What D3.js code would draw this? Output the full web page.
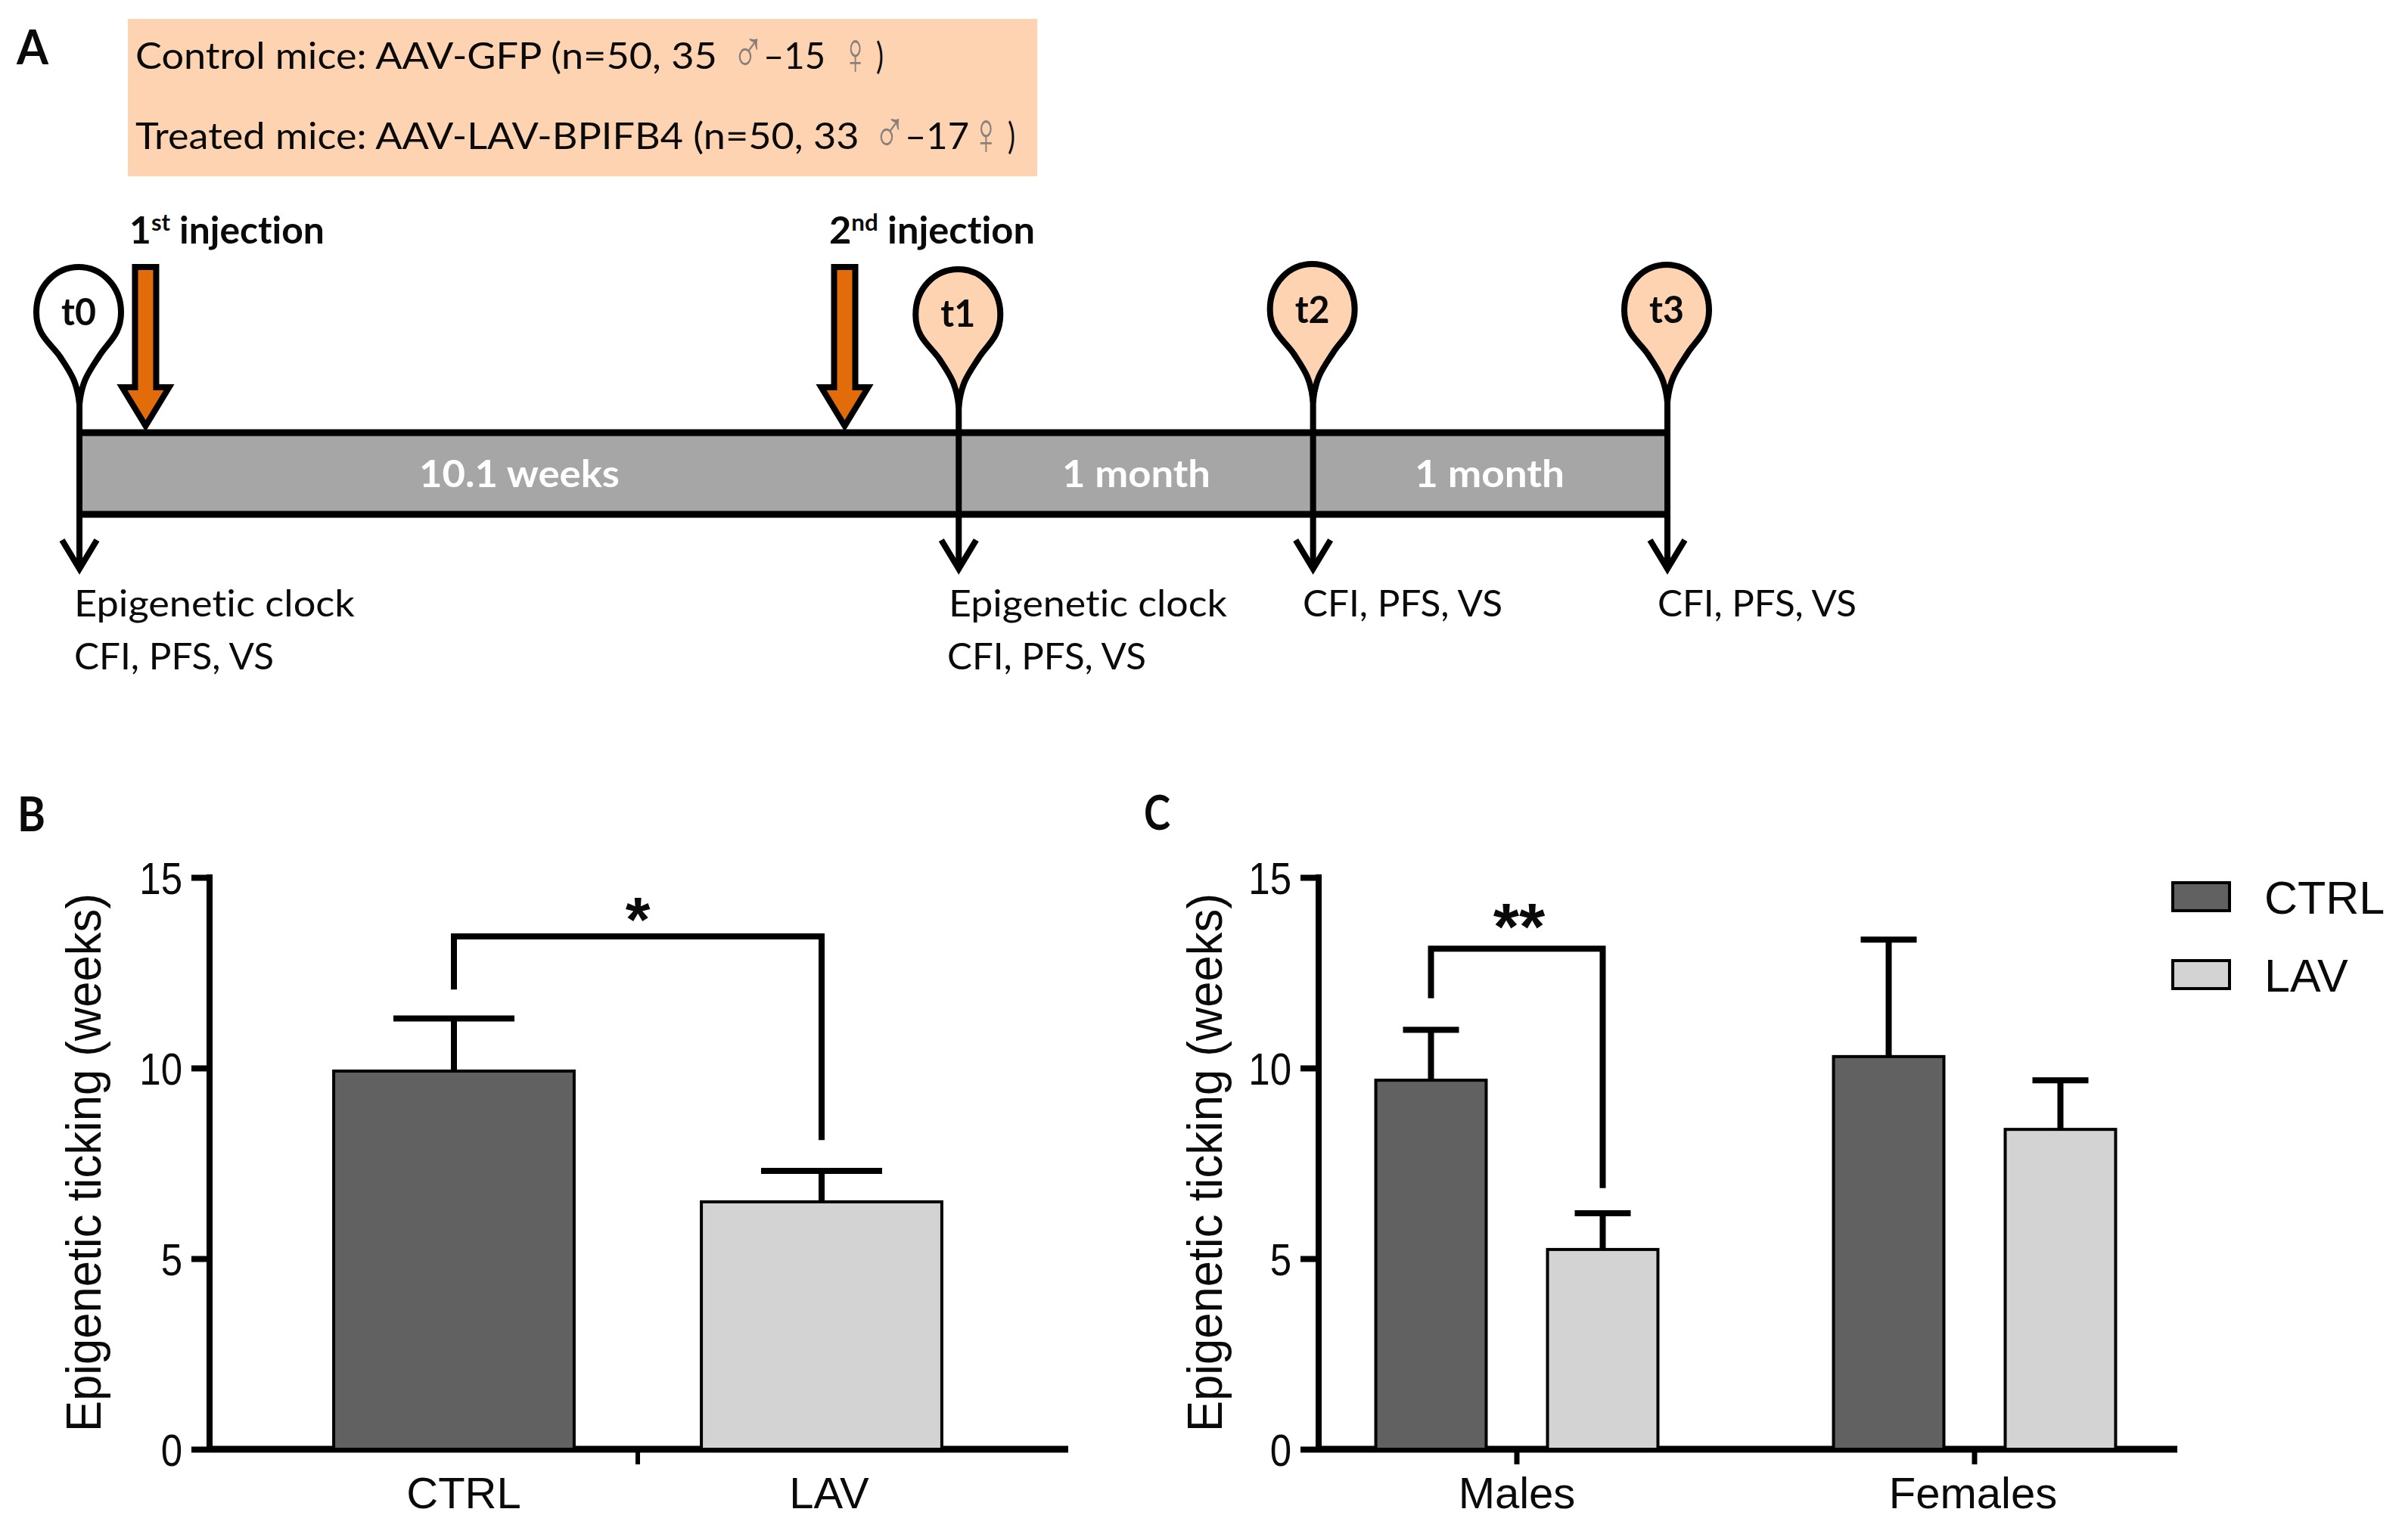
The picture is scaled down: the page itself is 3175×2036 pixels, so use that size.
<!DOCTYPE html>
<html><head><meta charset="utf-8">
<style>html,body{margin:0;padding:0;background:#fff}svg{display:block}text{font-variant-ligatures:none;font-feature-settings:"liga" 0,"clig" 0}</style>
<script src="https://cdn.jsdelivr.net/npm/d3@7/dist/d3.min.js"></script>
</head><body><svg id="c" width="3175" height="2036"></svg>
<script>
// Panel A data
const timepointNames = ["t0","t1","t2","t3"];
const timepointWeeks = [0,10.1,14.17,18.24];
const intervalLabels = ["10.1 weeks","1 month","1 month"];
const injectionWeeks = [0.76,8.79];
// Panel B data
const categoriesB = ["CTRL","LAV"];
const meansB = [9.92,6.49];
const errorsB = [11.3,7.3];
const bracketB = {top:13.45,left:12.06,right:8.11};
// Panel C data
const groupsC = ["Males","Females"];
const seriesC = ["CTRL","LAV"];
const ctrlMeansC = [9.68,10.3];
const ctrlErrorsC = [11.0,13.37];
const lavMeansC = [5.24,8.39];
const lavErrorsC = [6.19,9.68];
const bracketC = {top:13.13,left:11.83,right:6.85};
const yTicks = [0,5,10,15];

const DARK="#616161",LIGHT="#d3d3d3",PEACH="#fdd3b2",ORANGE="#e36c0a",GREY="#a6a6a6",INK="#0a0a0a";
const svg=d3.select("#c");
const SANS="'Liberation Sans',Arial,sans-serif", CAL="Lato,'Open Sans',sans-serif";

// fitted text: draws text from x0 to x1 on a baseline, squeezing it horizontally
function fit(x0,x1,y,parts,o={}){
  const size=o.size||49;
  const t=svg.append("text").attr("font-family",o.family||CAL).attr("font-size",size)
    .attr("font-weight",o.weight||400).attr("fill",o.fill||INK);
  (Array.isArray(parts)?parts:[parts]).forEach(p=>{
    if(typeof p==="string") t.append("tspan").text(p);
    else {t.append("tspan").attr("font-size",size*.62).attr("dy",-17).text(p.sup);
      t.append("tspan").attr("dy",17).attr("font-size",size).text(" ");}
  });
  const w=t.node().getComputedTextLength();
  t.attr("transform",`translate(${x0},${y}) scale(${(x1-x0)/w},1)`);
  return t;
}
const SYM={family:"'DejaVu Sans'",size:80,fill:"#8a8078",weight:200};

// ---------- Panel A ----------
fit(22,64,85,"A",{weight:700,size:64});
svg.append("rect").attr("x",169).attr("y",25).attr("width",1202).attr("height",208).attr("fill",PEACH);
fit(179,948,91,"Control mice: AAV-GFP (n=50, 35");
fit(967,1011,96,"♂",SYM);
fit(1009,1091,91,"–15");
fit(1112,1149,98,"♀",SYM);
fit(1158,1168,91,")");
fit(179,1136,197,"Treated mice: AAV-LAV-BPIFB4 (n=50, 33");
fit(1154,1198,202,"♂",SYM);
fit(1196,1281,197,"–17");
fit(1284,1323,204,"♀",SYM);
fit(1332,1342,197,")");

const tx=d3.scaleLinear().domain([0,18.24]).range([105,2204]);
const barTop=572,barBot=680;
svg.append("rect").attr("x",tx(0)).attr("y",barTop).attr("width",tx(18.24)-tx(0)).attr("height",barBot-barTop)
  .attr("fill",GREY);
[barTop,barBot].forEach(y=>svg.append("line").attr("x1",tx(0)-3).attr("x2",tx(18.24)+3).attr("y1",y).attr("y2",y)
  .attr("stroke","#000").attr("stroke-width",9));

// vertical lines, down arrows and teardrop pins
const pinTops=[349,352,345,346], pinLabelY=[430,432,427,427];
timepointWeeks.forEach((w,i)=>{
  const x=tx(w);
  svg.append("line").attr("x1",x).attr("x2",x).attr("y1",pinTops[i]+170).attr("y2",750)
    .attr("stroke","#000").attr("stroke-width",8);
  svg.append("path").attr("d",`M${x-23},714 L${x},752 L${x+23},714`).attr("fill","none")
    .attr("stroke","#000").attr("stroke-width",8);
  const t=pinTops[i];
  svg.append("path").attr("transform",`translate(${x-1},${t+4})`)
    .attr("d","M1,182 C-2,150 -12,138 -25,118 C-38,100 -56,90 -56,60 C-56,25 -30,0 0,0 C30,0 56,25 56,60 C56,90 38,100 27,118 C14,138 4,150 1,182 Z")
    .attr("fill",i===0?"#fff":PEACH).attr("stroke","#000").attr("stroke-width",8).attr("stroke-linejoin","round");
  fit(x-24,x+22,pinLabelY[i],timepointNames[i],{weight:700,size:50});
});

// injection arrows
injectionWeeks.forEach(w=>{
  const x=tx(w);
  svg.append("path").attr("d",`M${x-14},353 H${x+14} V512 H${x+31} L${x},563 L${x-31},512 H${x-14} Z`)
    .attr("fill",ORANGE).attr("stroke","#000").attr("stroke-width",8);
});
fit(171,429,322,["1",{sup:"st"},"injection"],{weight:700});
fit(1096,1368,322,["2",{sup:"nd"},"injection"],{weight:700});

// interval labels
fit(554,819,644,intervalLabels[0],{weight:700,fill:"#fff",size:50});
fit(1404,1600,644,intervalLabels[1],{weight:700,fill:"#fff",size:50});
fit(1870,2068,644,intervalLabels[2],{weight:700,fill:"#fff",size:50});

// measures
fit(98,469,815,"Epigenetic clock");
fit(98,362,885,"CFI, PFS, VS");
fit(1254,1622,815,"Epigenetic clock");
fit(1252,1515,885,"CFI, PFS, VS");
fit(1722,1986,815,"CFI, PFS, VS");
fit(2191,2454,815,"CFI, PFS, VS");

// ---------- Charts ----------
const y=d3.scaleLinear().domain([0,15]).range([1916,1160]);
function yAxis(x0,xEnd,titleX,titleY0,titleY1){
  const g=svg.append("g").attr("transform",`translate(${x0},0)`)
    .call(d3.axisLeft(y).tickValues(yTicks).tickSize(24).tickPadding(12));
  g.select(".domain").attr("stroke","#000").attr("stroke-width",8).attr("d",`M0,${y(15)-4}V${y(0)}`);
  g.selectAll(".tick line").attr("stroke","#000").attr("stroke-width",8);
  g.selectAll(".tick text").attr("font-family",SANS).attr("font-size",60).attr("fill",INK).attr("dy","0.36em")
    .attr("x",-36/.85).attr("transform","scale(.85,1)");
  svg.append("line").attr("x1",x0).attr("x2",xEnd).attr("y1",y(0)).attr("y2",y(0))
    .attr("stroke","#000").attr("stroke-width",9);
  const t=svg.append("text").attr("font-family",SANS).attr("font-size",64).attr("fill",INK)
    .text("Epigenetic ticking (weeks)");
  const w=t.node().getComputedTextLength();
  t.attr("transform",`translate(${titleX},${titleY0}) rotate(-90) scale(${(titleY0-titleY1)/w},1)`);
}
function bar(x,w,mean,err,fill,cap){
  const cx=x+w/2;
  svg.append("line").attr("x1",cx).attr("x2",cx).attr("y1",y(mean)).attr("y2",y(err)).attr("stroke","#000").attr("stroke-width",8);
  svg.append("line").attr("x1",cx-cap/2).attr("x2",cx+cap/2).attr("y1",y(err)).attr("y2",y(err)).attr("stroke","#000").attr("stroke-width",8);
  svg.append("rect").attr("x",x).attr("y",y(mean)).attr("width",w).attr("height",y(0)-y(mean))
    .attr("fill",fill).attr("stroke","#000").attr("stroke-width",4);
}
function bracket(xl,xr,b){
  svg.append("path").attr("d",`M${xl},${y(b.left)}V${y(b.top)}H${xr}V${y(b.right)}`)
    .attr("fill","none").attr("stroke","#000").attr("stroke-width",8);
}
function stars(cx,cy,s,size){
  svg.append("text").attr("x",cx).attr("y",cy).attr("text-anchor","middle").attr("font-family",SANS)
    .attr("font-weight",700).attr("font-size",size).attr("fill",INK).text(s);
}
function xLabels(g,dxs){
  g.select(".domain").remove();
  g.selectAll(".tick text").attr("font-family",SANS).attr("font-size",58).attr("fill",INK)
    .attr("dx",(d,i)=>dxs[i]);
  g.selectAll(".tick line").attr("stroke","#000").attr("stroke-width",7);
}

// Panel B
fit(23,60,1099,"B",{weight:700,size:64});
const xB=d3.scaleBand().domain(categoriesB).range([357,1329]).paddingInner(.346).paddingOuter(.173);
yAxis(277,1412,133,1893,1181);
categoriesB.forEach((c,i)=>bar(xB(c),xB.bandwidth(),meansB[i],errorsB[i],i?LIGHT:DARK,160));
xLabels(svg.append("g").attr("transform",`translate(0,${y(0)})`)
  .call(d3.axisBottom(xB).tickSize(0).tickPadding(37)),[13,10]);
const midB=(xB("CTRL")+xB("LAV")+xB.bandwidth())/2;
svg.append("line").attr("x1",midB).attr("x2",midB).attr("y1",y(0)).attr("y2",y(0)+20).attr("stroke","#000").attr("stroke-width",6);
bracket(xB("CTRL")+xB.bandwidth()/2,xB("LAV")+xB.bandwidth()/2,bracketB);
stars(midB,1245,"*",84);

// Panel C
fit(1512,1547,1097,"C",{weight:700,size:64});
const x0C=d3.scaleBand().domain(groupsC).range([1702.5,2912.5]).paddingInner(.25).paddingOuter(.125);
const x1C=d3.scaleBand().domain(seriesC).range([0,x0C.bandwidth()]).paddingInner(.357).paddingOuter(.178);
yAxis(1743,2878,1615,1893,1181);
groupsC.forEach((g,i)=>{
  bar(x0C(g)+x1C("CTRL"),x1C.bandwidth(),ctrlMeansC[i],ctrlErrorsC[i],DARK,74);
  bar(x0C(g)+x1C("LAV"),x1C.bandwidth(),lavMeansC[i],lavErrorsC[i],LIGHT,74);
});
xLabels(svg.append("g").attr("transform",`translate(0,${y(0)})`)
  .call(d3.axisBottom(x0C).tickSize(20).tickPadding(17)),[0,-2]);
bracket(x0C("Males")+x1C("CTRL")+x1C.bandwidth()/2,x0C("Males")+x1C("LAV")+x1C.bandwidth()/2,bracketC);
stars(x0C("Males")+x0C.bandwidth()/2+3,1255,"**",88);

// Legend
seriesC.forEach((s,i)=>{
  const top=[1167,1270][i];
  svg.append("rect").attr("x",2872).attr("y",top).attr("width",75).attr("height",37)
    .attr("fill",i?LIGHT:DARK).attr("stroke","#000").attr("stroke-width",4);
  svg.append("text").attr("x",2993).attr("y",top+41).attr("font-family",SANS).attr("font-size",61).attr("fill",INK).text(s);
});
</script></body></html>
